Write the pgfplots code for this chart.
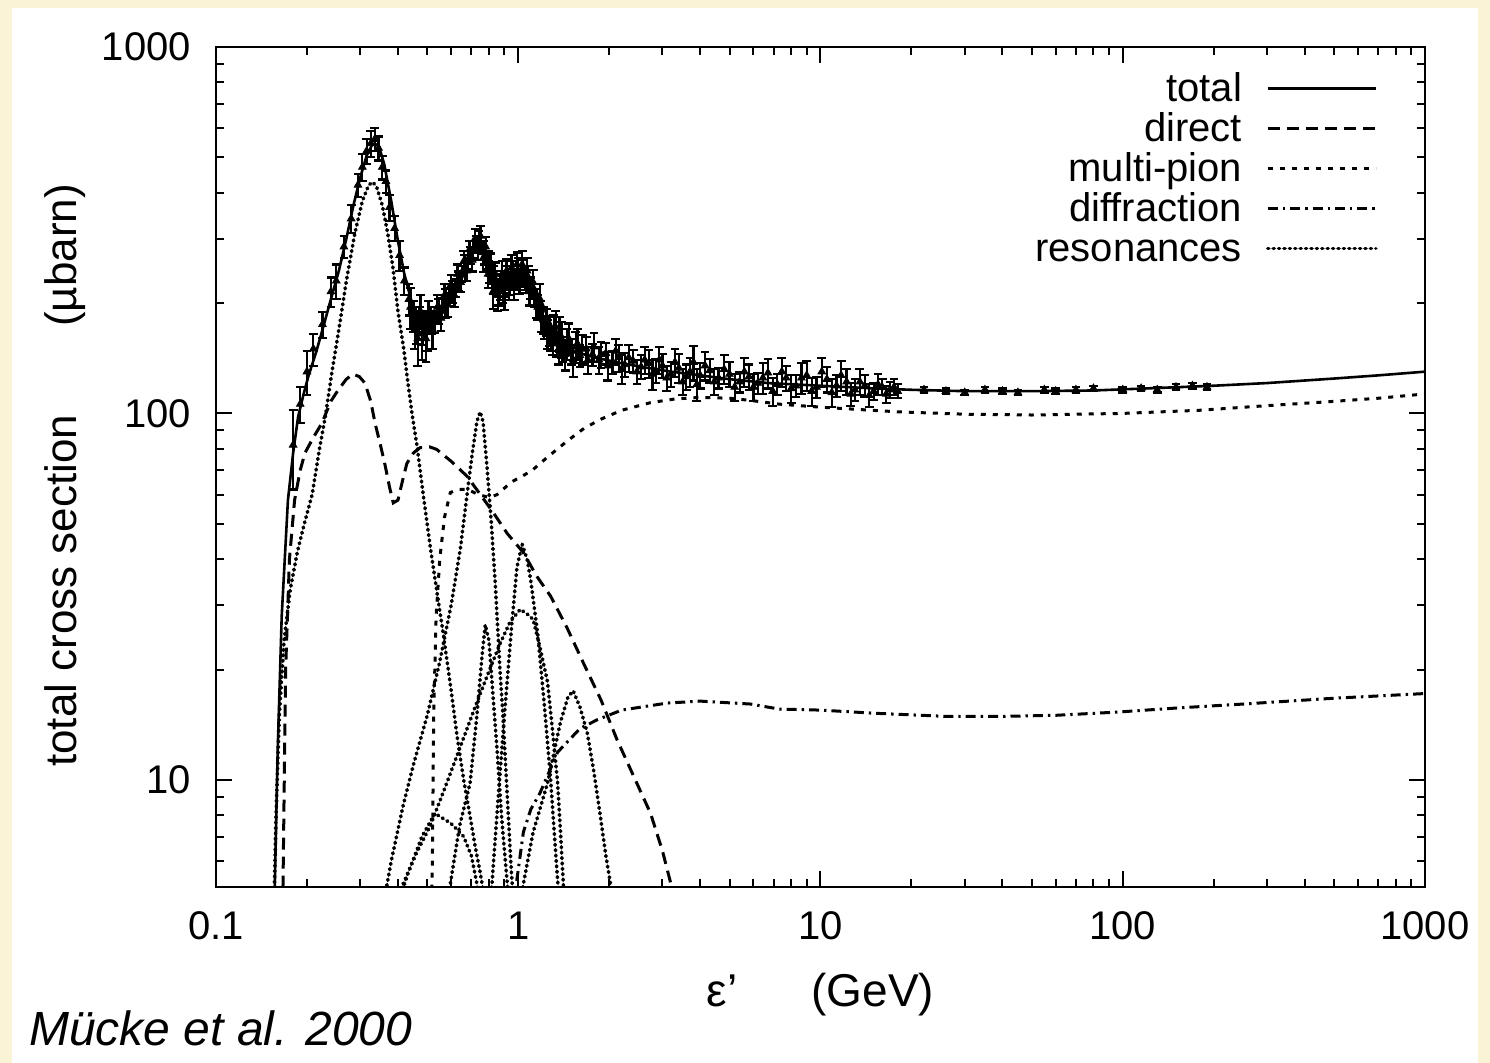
\documentclass[border=0pt]{standalone}
\usepackage{fontspec}
\setmainfont{Liberation Sans}
\usepackage{pgfplots}
\pgfplotsset{compat=1.18}
\definecolor{cream}{RGB}{250,243,214}
\begin{document}
\begin{tikzpicture}
\fill[cream] (-108pt,-88pt) rectangle (637pt,443.5pt);
\fill[white] (-102pt,-88pt) rectangle (631pt,439.5pt);
\begin{axis}[
  at={(0pt,0pt)}, anchor=south west,
  scale only axis, width=604.5pt, height=420pt,
  xmode=log, ymode=log,
  xmin=0.1, xmax=1000, ymin=5.1, ymax=1000,
  xtick={0.1,1,10,100,1000}, xticklabels={0.1,1,10,100,1000},
  ytick={10,100,1000}, yticklabels={10,100,1000},
  minor xtick={0.2,0.3,0.4,0.5,0.6,0.7,0.8,0.9,2,3,4,5,6,7,8,9,20,30,40,50,60,70,80,90,200,300,400,500,600,700,800,900},
  minor ytick={6,7,8,9,20,30,40,50,60,70,80,90,200,300,400,500,600,700,800,900},
  tick align=inside, xtick pos=both, ytick pos=both,
  major tick length=8pt, minor tick length=4pt,
  every tick/.style={black, line width=1pt},
  axis line style={black, line width=1.2pt},
  tick label style={font=\fontsize{20}{24}\selectfont},
  xticklabel style={yshift=-9pt},
  yticklabel style={xshift=-9pt},
  xlabel={ε'\hspace{1.6em}(GeV)},
  xlabel style={font=\fontsize{23}{27}\selectfont, at={(axis description cs:0.5,-0.1286)}, anchor=center},
  ylabel={total cross section\hspace{2em}(µbarn)},
  ylabel style={font=\fontsize{22}{26}\selectfont, at={(axis description cs:-0.125,0.49)}, anchor=center},
  legend plot pos=right,
  legend cell align=right,
  legend image code/.code={\draw[#1] (0pt,1.5pt) -- (54pt,1.5pt);},
  legend style={at={(rel axis cs:1,1)}, anchor=north east, xshift=-23.5pt, yshift=-12pt,
    draw=none, fill=none, inner sep=0pt, column sep=12pt, row sep=0pt,
    font=\fontsize{20}{24}\selectfont,
    nodes={inner sep=0pt, text height=15pt, text depth=5pt}},
  res/.style={black, line width=1.8pt, line cap=round, dash pattern=on 0.5pt off 2.2pt},
]
% total
\addplot[black, line width=1.3pt] coordinates {
(0.156,4.5) (0.160,12) (0.165,28) (0.173,58) (0.180,78) (0.187,98) (0.195,113) (0.202,126)
(0.215,148) (0.225,169) (0.240,205) (0.255,245) (0.270,300) (0.285,370) (0.300,440) (0.315,505)
(0.330,545) (0.345,540) (0.360,480) (0.380,380) (0.400,295) (0.420,240) (0.445,200) (0.470,180)
(0.500,172) (0.540,180) (0.580,195) (0.620,215) (0.660,240) (0.700,270) (0.740,292) (0.770,285)
(0.800,262) (0.850,232) (0.900,222) (0.950,230) (1.000,240) (1.050,242) (1.100,232) (1.200,200)
(1.300,170) (1.400,152) (1.600,146) (1.800,142) (2.200,137) (2.700,133) (3.200,130) (4.000,127)
(5.000,124) (6.700,121) (10,119) (15,117) (20,116) (30,115) (50,115) (80,115.5) (120,117)
(200,119) (300,121) (500,124.5) (700,127) (1000,130)};
\addlegendentry{total}
% direct
\addplot[black, line width=1.5pt, dash pattern=on 6pt off 3.5pt] coordinates {
(0.166,4) (0.170,20) (0.175,40) (0.182,58) (0.190,70) (0.197,78) (0.210,86) (0.224,94) (0.240,108)
(0.254,116) (0.270,124) (0.284,128) (0.298,126) (0.311,121) (0.325,108) (0.336,94) (0.350,82)
(0.363,72) (0.375,63) (0.386,57) (0.400,58) (0.415,66) (0.428,73) (0.450,78) (0.473,80.6)
(0.510,81) (0.537,79.8) (0.600,74) (0.677,67.4) (0.750,60) (0.826,53.7) (0.920,47) (1.040,41.7)
(1.150,36) (1.280,31.7) (1.450,26) (1.640,20.9) (1.880,16.5) (2.120,12.9) (2.400,10.3)
(2.740,8.1) (3.000,6.4) (3.190,5.25) (3.400,4.3)};
\addlegendentry{direct}
% multi-pion
\addplot[black, line width=1.5pt, dash pattern=on 2.5pt off 3.5pt] coordinates {
(0.515,4) (0.520,6) (0.525,15) (0.535,28) (0.550,40) (0.570,52) (0.596,60.8) (0.630,62)
(0.680,62) (0.740,60) (0.800,59) (0.850,60) (0.950,65) (1.050,68) (1.120,70.3) (1.250,76)
(1.450,84) (1.650,91) (1.870,96.3) (2.200,102) (2.740,107) (3.300,109.5) (4.000,110.6)
(5.000,110) (5.870,108.5) (7.300,106) (10,104) (18,101) (30,99.5) (50,99) (100,100) (180,102)
(300,105) (470,107.5) (700,110) (1000,113)};
\addlegendentry{multi-pion}
% diffraction
\addplot[black, line width=1.5pt, dash pattern=on 5pt off 2.5pt on 1.2pt off 2.5pt] coordinates {
(0.960,4) (0.990,5.35) (1.040,7.2) (1.100,8.3) (1.180,9.2) (1.350,11.9) (1.600,13.8) (1.830,14.6)
(2.200,15.5) (3.110,16.2) (4.000,16.4) (5.870,16.1) (7.300,15.6) (10,15.5) (15,15.2) (26,14.9)
(40,14.9) (60,15.0) (95,15.3) (150,15.7) (250,16.1) (500,16.7) (1000,17.2)};
\addlegendentry{diffraction}
% resonances
\addplot[res] coordinates {
(0.155,4) (0.158,8) (0.162,15) (0.168,24) (0.176,33) (0.186,42) (0.196,50) (0.208,60) (0.220,80)
(0.230,98) (0.242,130) (0.254,166) (0.270,230) (0.288,310) (0.305,380) (0.320,420) (0.330,428)
(0.340,415) (0.355,370) (0.370,310) (0.385,250) (0.400,190) (0.418,150) (0.430,124) (0.445,100)
(0.463,81) (0.485,60) (0.512,43) (0.540,32) (0.565,25) (0.600,17.5) (0.628,13.1) (0.660,10)
(0.693,7.95) (0.720,6.6) (0.748,5.6) (0.790,4.3)};
\addlegendentry{resonances}
\addplot[forget plot, res] coordinates {
(0.357,4.5) (0.380,6) (0.416,8.5) (0.450,11) (0.500,15) (0.550,21) (0.600,30) (0.643,42.6)
(0.677,60) (0.705,78) (0.730,95) (0.748,101) (0.765,95) (0.790,70) (0.815,50) (0.840,34)
(0.870,20) (0.890,15) (0.920,9) (0.950,5.5) (0.980,4)};
\addplot[forget plot, res] coordinates {
(0.80,4) (0.85,8) (0.90,15) (0.95,26) (0.99,38) (1.03,44) (1.07,40) (1.10,35) (1.16,25)
(1.22,16) (1.28,10) (1.35,5.3) (1.40,4)};
\addplot[forget plot, res] coordinates {
(0.416,5.2) (0.460,6.3) (0.512,7.5) (0.580,9.8) (0.643,12.3) (0.720,15.8) (0.789,19.2)
(0.870,23.5) (0.940,27) (1.016,29.2) (1.080,28.2) (1.120,27.4) (1.180,23) (1.250,18.5)
(1.300,13.5) (1.350,9.8) (1.380,7.2) (1.410,5.2) (1.440,4)};
\addplot[forget plot, res] coordinates {
(0.560,4) (0.596,5.2) (0.640,7.5) (0.693,9.8) (0.730,15) (0.760,22) (0.778,26.5) (0.800,24)
(0.825,17) (0.851,12.1) (0.880,8) (0.920,5.2) (0.950,4)};
\addplot[forget plot, res] coordinates {
(1.000,4.3) (1.040,5.2) (1.120,7.2) (1.250,9.8) (1.380,14.4) (1.460,16.8) (1.520,17.5)
(1.600,15.8) (1.690,13.5) (1.780,10.5) (1.870,7.95) (1.950,6.2) (2.020,5.2) (2.080,4.3)};
\addplot[forget plot, res] coordinates {
(0.380,4) (0.430,5.5) (0.480,7) (0.530,8.1) (0.600,7.6) (0.660,7) (0.700,6.2) (0.730,5.2) (0.750,4.3)};
% data
\pgfplotsset{datastyle/.style={forget plot, only marks, black, mark=triangle*, mark size=2.2pt,
  error bars/.cd, y dir=both, y explicit,
  error bar style={line width=1.1pt},
  error mark options={rotate=90, mark size=2.2pt, line width=1.1pt}}}
\addplot[datastyle] table[x=x, y=y, y error=e] {
x y e
0.180 82 20
0.190 106 12
0.200 130 18
0.210 150 15
0.225 175 14
0.240 215 20
0.250 230 25
0.265 285 20
0.280 340 30
0.295 420 30
0.305 470 40
0.315 520 40
0.325 545 45
0.335 560 40
0.345 530 40
0.355 470 35
0.365 430 30
0.375 365 30
0.390 320 25
0.405 270 25
0.420 230 20
0.435 205 20
0.450 185 18
0.460 175 20
0.470 180 15
0.480 165 25
0.490 175 15
0.500 168 20
0.515 180 15
0.530 178 12
0.545 190 15
0.560 195 12
0.575 200 18
0.590 208 12
0.605 215 15
0.620 220 12
0.635 230 14
0.650 240 12
0.665 250 20
0.680 262 15
0.695 270 14
0.710 280 15
0.725 290 15
0.740 295 20
0.755 288 15
0.770 275 20
0.785 262 15
0.800 252 25
0.815 240 15
0.830 232 20
0.845 225 15
0.860 215 18
0.875 230 15
0.890 220 20
0.905 228 15
0.920 235 18
0.940 225 15
0.960 240 20
0.980 232 15
1.000 245 20
1.020 238 15
1.040 242 20
1.060 228 15
1.080 235 18
1.100 220 15
1.130 210 15
1.160 195 15
1.190 185 18
1.220 172 12
1.250 165 15
1.280 160 12
1.310 170 15
1.340 155 12
1.370 165 18
1.400 150 12
1.450 155 15
1.500 148 12
1.550 152 15
1.600 144 10
1.680 150 12
1.760 145 10
1.850 140 12
1.950 146 10
2.050 138 10
2.150 142 12
2.250 136 10
2.400 139 10
2.550 134 10
2.700 137 12
2.850 131 10
3.000 135 10
3.200 128 10
3.400 133 12
3.600 126 10
3.800 138 15
4.000 127 10
4.300 131 10
4.600 125 8
5.000 128 10
5.400 122 8
5.800 126 10
6.200 121 8
6.700 129 12
7.200 120 8
7.700 125 10
8.300 119 8
9.000 127 12
9.700 118 8
10.5 124 10
11.3 119 8
12.2 122 10
13.0 116 8
14.0 119 8
15.0 115 6
16.0 118 6
17.0 116 6
18.0 115 5
22 116 2
26 115 2
30 114 2
35 116 2
40 115 2
45 114 2
55 116 2
60 115 2
70 116 2
80 117 2
100 116 2
115 117 2
130 116 2
150 118 2
170 119 2
190 118 2
};
\addplot[datastyle] table[x=x, y=y, y error=e] {
x y e
0.44 195 25
0.455 170 20
0.465 160 25
0.475 190 20
0.485 172 18
0.495 160 22
0.505 185 18
0.52 170 20
0.54 195 15
0.555 182 14
0.57 210 15
0.585 198 15
0.60 225 14
0.615 210 15
0.63 240 15
0.645 228 14
0.66 260 18
0.675 245 15
0.69 280 15
0.705 262 18
0.72 300 18
0.735 280 18
0.75 305 20
0.765 265 22
0.78 285 18
0.795 240 20
0.81 255 18
0.825 215 22
0.84 240 18
0.855 210 20
0.87 222 18
0.885 240 20
0.90 210 18
0.915 245 18
0.93 220 16
0.95 250 20
0.97 222 18
0.99 255 20
1.01 230 18
1.03 255 22
1.05 235 18
1.07 245 20
1.09 215 18
1.12 228 18
1.15 200 18
1.18 205 20
1.21 180 15
1.24 178 15
1.27 168 15
1.30 158 14
1.33 172 18
1.36 150 14
1.39 160 18
1.43 145 14
1.47 160 16
1.52 140 14
1.57 155 15
1.63 150 14
1.70 140 12
1.78 152 14
1.88 145 12
1.98 135 12
2.10 148 12
2.20 132 12
2.32 142 12
2.47 130 10
2.62 140 12
2.78 128 12
2.93 140 12
3.10 125 10
3.30 138 12
3.50 122 10
3.70 130 12
3.90 120 12
4.15 135 12
4.45 122 10
4.80 132 12
5.20 118 10
5.60 130 12
6.00 118 10
6.45 125 12
6.95 115 10
7.45 130 12
8.00 117 10
8.65 125 12
9.35 115 10
10.1 130 12
10.9 114 10
11.7 127 12
12.6 113 8
13.5 122 10
14.5 112 8
15.5 120 8
16.5 113 6
17.5 118 6
};
\end{axis}
\node[anchor=base west, font=\fontsize{24}{28}\selectfont\itshape] at (-97pt,-79.5pt) {Mücke et al. 2000};
\end{tikzpicture}
\end{document}
